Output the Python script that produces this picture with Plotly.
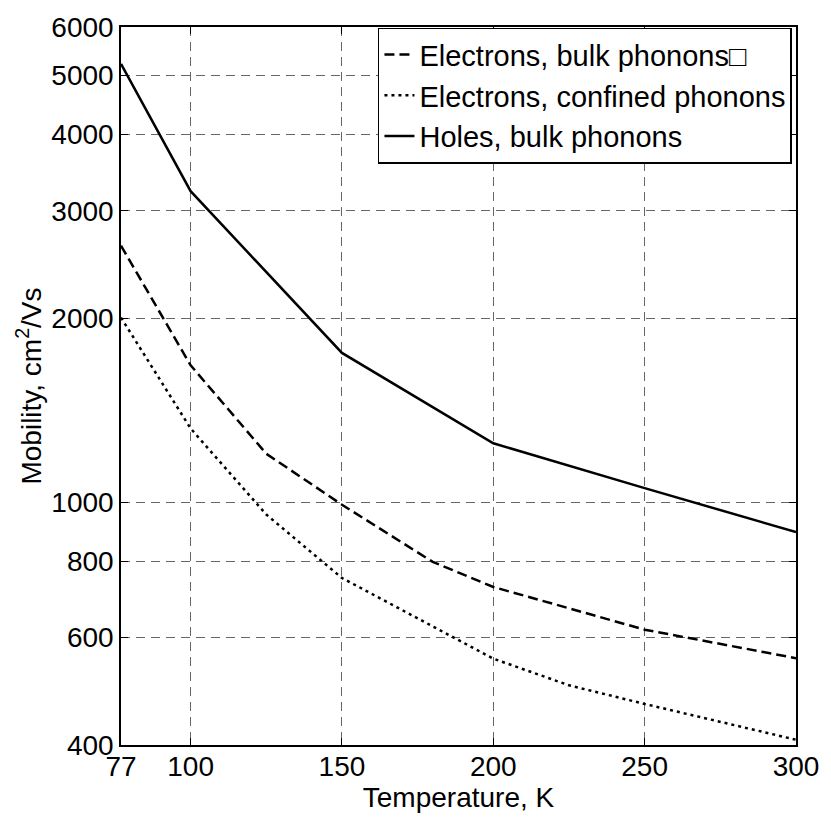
import plotly.graph_objects as go

# Temperature points (K) and mobilities (cm^2/Vs) for each curve
t_e_bulk = [77, 100, 125, 150, 180, 200, 250, 300]
mu_e_bulk = [2630, 1675, 1200, 990, 798, 726, 618, 555]

t_e_conf = [77, 100, 125, 150, 200, 225, 250, 300]
mu_e_conf = [2005, 1320, 954, 751, 554, 501, 467, 408]

t_h_bulk = [77, 100, 150, 200, 250, 300]
mu_h_bulk = [5220, 3230, 1755, 1248, 1054, 893]

x_ticks = [77, 100, 150, 200, 250, 300]
y_ticks = [400, 600, 800, 1000, 2000, 3000, 4000, 5000, 6000]

names = ["Electrons, bulk phonons\u25a1", "Electrons, confined phonons", "Holes, bulk phonons"]

font_family = "Liberation Sans, Arial, sans-serif"
fs = 28

fig = go.Figure()
fig.add_trace(go.Scatter(x=t_e_bulk, y=mu_e_bulk, mode="lines", name=names[0],
                         line=dict(color="black", width=2.5, dash="10px,5px")))
fig.add_trace(go.Scatter(x=t_e_conf, y=mu_e_conf, mode="lines", name=names[1],
                         line=dict(color="black", width=2.5, dash="3px,4px")))
fig.add_trace(go.Scatter(x=t_h_bulk, y=mu_h_bulk, mode="lines", name=names[2],
                         line=dict(color="black", width=2.5)))

axis_common = dict(
    showline=True, linecolor="black", linewidth=1.5, mirror="ticks",
    ticks="inside", ticklen=7, tickcolor="black", tickwidth=1,
    showgrid=True, gridcolor="#666", gridwidth=1, griddash="9px,6px",
    zeroline=False, tickfont=dict(size=fs, color="black", family=font_family),
)

fig.update_xaxes(range=[77, 300], tickvals=x_ticks, ticktext=[str(v) for v in x_ticks],
                 ticklabelstandoff=-4,
                 title=dict(text="Temperature, K", font=dict(size=fs, color="black", family=font_family),
                            standoff=0),
                 **axis_common)
fig.update_yaxes(type="log", range=[2.60206, 3.778151], tickvals=y_ticks,
                 ticktext=[str(v) for v in y_ticks],
                 title=dict(text="Mobility, cm<sup>2</sup>/Vs",
                            font=dict(size=fs, color="black", family=font_family), standoff=2),
                 **axis_common)

fig.update_layout(
    width=831, height=828,
    margin=dict(l=121, r=31, t=23, b=83),
    paper_bgcolor="white", plot_bgcolor="white",
    font=dict(family=font_family, color="black"),
    legend=dict(x=0.994, y=0.999, xanchor="right", yanchor="top",
                bgcolor="white", bordercolor="black", borderwidth=1.5,
                font=dict(size=29, color="black", family=font_family),
                tracegroupgap=0),
)

fig.write_html("out.html")
